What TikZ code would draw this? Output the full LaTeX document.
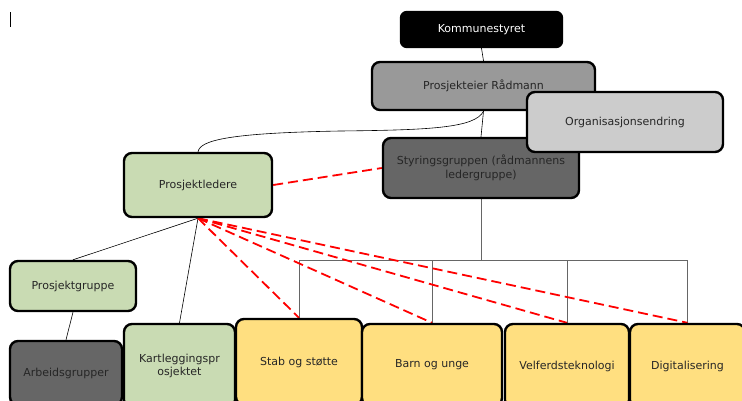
\documentclass[tikz,border=0pt]{standalone}
\usepackage{fontspec}
\setmainfont{DejaVu Sans}
\usetikzlibrary{backgrounds}
\definecolor{gA}{HTML}{999999}
\definecolor{gB}{HTML}{CCCCCC}
\definecolor{gC}{HTML}{666666}
\definecolor{grn}{HTML}{C9DBB3}
\definecolor{ylw}{HTML}{FFDF80}
\begin{document}
\begin{tikzpicture}[x=1pt,y=-1pt,
  box/.style={draw=black, line width=2.4pt, rounded corners=8pt, inner sep=2pt, align=center,
    text=black!85, font=\fontsize{11}{13.5}\selectfont},
  tree/.style={draw=black, line width=0.6pt},
  bracket/.style={draw=black!60, line width=0.8pt},
  link/.style={draw=red, line width=1.8pt, dash pattern=on 10pt off 5pt}]
\useasboundingbox (0,0) rectangle (742,400);
\draw[line width=0.8pt] (10,12) -- (10,27);
% nodes
\node[box, fill=black, text=white, rounded corners=6pt, minimum width=161pt, minimum height=35pt] (ks) at (481.5,29.5) {Kommunestyret};
\node[box, fill=gA, minimum width=223pt, minimum height=48pt] (pe) at (483.5,86) {Prosjekteier Rådmann};
\node[box, fill=gC, minimum width=196pt, minimum height=60pt] (sg) at (481,168) {Styringsgruppen (rådmannens\\ledergruppe)};
\node[box, fill=gB, minimum width=196pt, minimum height=60pt] (oe) at (625,122) {Organisasjonsendring};
\node[box, fill=grn, minimum width=148pt, minimum height=64pt] (pl) at (198,185) {Prosjektledere};
\node[box, fill=grn, minimum width=126pt, minimum height=50pt] (pg) at (73,286) {Prosjektgruppe};
\node[box, fill=gC, minimum width=112pt, minimum height=64pt] (ag) at (66,373) {Arbeidsgrupper};
\node[box, fill=grn, minimum width=111pt, minimum height=84pt] (kp) at (179.5,366) {Kartleggingspr\\osjektet};
\node[box, fill=ylw, minimum width=126pt, minimum height=86pt] (ss) at (299,362) {Stab og støtte};
\node[box, fill=ylw, minimum width=140pt, minimum height=82pt] (bu) at (432,365) {Barn og unge};
\node[box, fill=ylw, minimum width=124pt, minimum height=84pt] (vt) at (567,366) {Velferdsteknologi};
\node[box, fill=ylw, minimum width=115pt, minimum height=84pt] (dg) at (687.5,366) {Digitalisering};
% connectors
\begin{scope}[on background layer]
\coordinate (bus) at (481,260);
\draw[tree] (ks.south) -- (pe.north);
\draw[tree] (pe.south) -- (sg.north);
\draw[tree] (pe.south) .. controls (475,128) and (430,130) .. (340,131) .. controls (230,133) and (200,140) .. (pl.north);
\draw[tree] (pl.south) -- (pg.north);
\draw[tree] (pl.south) -- (kp.north);
\draw[tree] (pg.south) -- (ag.north);
\draw[bracket] (sg.south) -- (bus);
\draw[bracket] (ss.north) -- (ss.north |- bus) -- (dg.north |- bus) -- (dg.north);
\draw[bracket] (bu.north) -- (bu.north |- bus);
\draw[bracket] (vt.north) -- (vt.north |- bus);
\draw[link] (pl.east) -- (sg.west);
\draw[link] (pl.south) -- (ss.north);
\draw[link] (pl.south) -- (bu.north);
\draw[link] (pl.south) -- (vt.north);
\draw[link] (pl.south) -- (dg.north);
\end{scope}
\end{tikzpicture}
\end{document}
